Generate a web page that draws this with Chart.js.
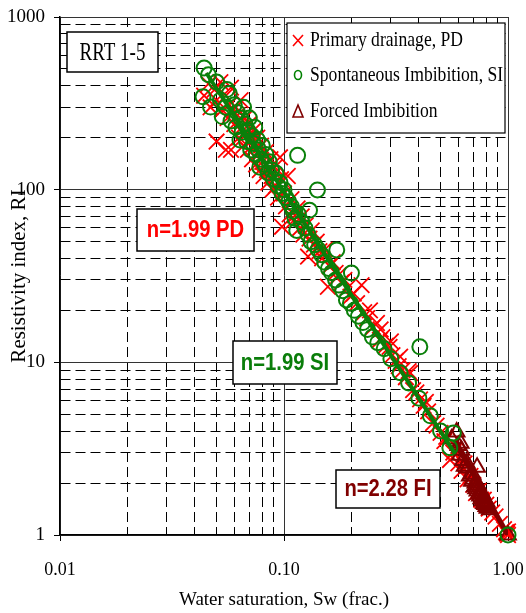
<!DOCTYPE html>
<html>
<head>
<meta charset="utf-8">
<script src="https://cdn.jsdelivr.net/npm/chart.js@4.4.1/dist/chart.umd.min.js"></script>
<style>
body{margin:0;background:#fff;}
#wrap{width:526px;height:613px;}
</style>
</head>
<body>
<div id="wrap"><canvas id="riChart" width="526" height="613"></canvas></div>
<script>
// grid / tick values
const xGrid = [0.01,0.02,0.03,0.04,0.05,0.06,0.07,0.08,0.09,0.1,0.2,0.3,0.4,0.5,0.6,0.7,0.8,0.9,1];
const yGrid = [1,2,3,4,5,6,7,8,9,10,20,30,40,50,60,70,80,90,100,200,300,400,500,600,700,800,900,1000];
const xMajor = [0.01,0.1,1];
const xMajorLabels = ["0.01","0.10","1.00"];
const yMajor = [1,10,100,1000];
const yMajorLabels = ["1","10","100","1000"];

// Primary drainage
const pdSw = [0.044,0.046,0.047,0.049,0.050,0.050,0.052,0.053,0.055,0.055,0.056,0.057,0.058,0.058,0.060,0.061,0.062,0.063,0.064,0.065,
  0.066,0.067,0.068,0.069,0.070,0.071,0.072,0.073,0.074,0.075,0.076,0.077,0.078,0.079,0.080,0.081,0.083,0.084,0.085,0.087,
  0.088,0.089,0.091,0.092,0.094,0.096,0.097,0.098,0.100,0.102,0.104,0.106,0.108,0.110,0.112,0.115,0.118,0.120,0.122,0.125,
  0.128,0.130,0.133,0.136,0.140,0.144,0.148,0.152,0.157,0.160,0.165,0.170,0.175,0.180,0.186,0.192,0.198,0.205,0.212,0.222,
  0.228,0.235,0.242,0.250,0.260,0.268,0.275,0.285,0.296,0.305,0.315,0.325,0.338,0.350,0.365,0.377,0.390,0.405,0.420,0.440,
  0.463,0.480,0.500,0.520,0.551,0.570,0.600,0.620,0.640,0.660,0.680,0.700,0.720,0.740,0.760,0.780,0.800,0.820,0.850,0.880,
  0.920,0.960,0.980,1.000,0.990,1.000,0.270,0.300,0.330,0.360,0.430,0.530,0.580];
const pdRI = [350,410,300,380,330,190,420,290,350,170,260,310,390,170,240,300,270,200,330,230,
  180,260,210,170,240,190,150,220,175,140,200,160,130,180,145,120,165,130,110,150,
  120,100,135,105,90,154,115,61,95,80,120,72,88,66,71,78,60,70,55,62,
  41,52,58,48,50,44,40,45,27.4,36,38,33,32,29,30,27,24,25,22,28,
  19.5,18,20,16,16.9,13.5,14,12.5,12.3,11,10.2,9.5,9,8.2,8.66,6.9,6.7,6.1,5.6,5.2,
  4.45,4.3,3.9,3.5,2.72,3.0,2.6,2.35,2.6,2.1,2.2,1.95,1.75,1.8,1.6,1.6,1.5,1.42,1.35,1.28,
  1.16,1.08,1.04,1.0,1.02,1.05,15.5,13.2,10.8,8.9,5.9,3.7,3.1];

// Spontaneous imbibition
const siSw = [0.044,0.046,0.0435,0.047,0.0556,0.053,0.0636,0.078,0.050,0.052,0.055,0.057,0.058,0.060,0.061,0.062,0.064,0.065,0.066,0.067,
  0.068,0.069,0.070,0.071,0.072,0.073,0.074,0.075,0.076,0.077,0.079,0.080,0.082,0.083,0.085,0.086,0.088,0.090,0.092,0.094,
  0.096,0.098,0.100,0.102,0.105,0.108,0.110,0.115,0.112,0.114,0.116,0.120,0.124,0.128,0.130,0.132,0.137,0.141,0.142,0.147,
  0.152,0.158,0.163,0.170,0.172,0.176,0.183,0.190,0.198,0.200,0.206,0.215,0.225,0.236,0.248,0.262,0.280,0.300,0.330,0.360,
  0.404,0.400,0.450,0.500,0.550,0.570,1.000];
const siRI = [506,463,345,301,380,265,194,135,420,330,300,360,250,310,230,280,260,215,300,240,
  190,220,260,170,205,185,230,160,195,170,150,180,140,160,125,145,130,115,125,105,
  110,95,100,90,85,80,75,158,68,58,72,65,60,55,76,50,48,99.6,45,42,
  38,35,33,30,44.8,28,26,23,22,32.9,20,18.5,17,15.5,14,13,12,10.5,8.7,7.6,
  12.3,6.2,4.9,4.0,3.2,3.9,1.0];

// Forced imbibition
const fiSw = [0.56,0.59,0.60,0.61,0.615,0.62,0.63,0.64,0.655,0.66,0.675,0.69,0.70,0.71,0.72,0.728,0.73,0.74,0.75,0.76,
  0.77,0.776,0.78,0.79,0.80,0.81,0.83,0.695,0.715,0.735,0.755,0.765,0.785,0.805,1.0];
const fiRI = [3.6,3.95,3.3,2.9,3.4,3.1,2.7,2.5,2.6,2.44,2.2,2.05,2.1,1.9,1.85,2.47,1.8,1.72,1.68,1.62,
  1.58,1.66,1.52,1.5,1.46,1.43,1.4,2.25,2.0,1.95,1.8,1.75,1.62,1.55,1.0];

// fitted lines (end points)
const pdFitSw = [0.045,1.0];
const pdFitRI = [474,1.0];
const siFitSw = [0.045,0.58];
const siFitRI = [474,2.96];
const fiFitSw = [0.58,1.0];
const fiFitRI = [3.46,1.0];

function pairs(xs, ys){
    return xs.map(function(x,i){ return {x:x, y:ys[i]}; });
}

function scaledText(ctx, text, x, y, font, color, sx){
    ctx.save();
    ctx.font = font;
    ctx.fillStyle = color;
    ctx.textBaseline = "middle";
    ctx.textAlign = "center";
    ctx.translate(x, y);
    ctx.scale(sx, 1);
    ctx.fillText(text, 0, 0);
    ctx.restore();
}

function textBox(ctx, l, t, r, b, text, font, color, sx){
    ctx.save();
    ctx.fillStyle = "#fff";
    ctx.fillRect(l, t, r-l, b-t);
    ctx.strokeStyle = "#000";
    ctx.lineWidth = 1.5;
    ctx.strokeRect(l, t, r-l, b-t);
    ctx.restore();
    scaledText(ctx, text, (l+r)/2, (t+b)/2 + 1, font, color, sx);
}

const boxesPlugin = {
    id: "boxes",
    beforeDraw(chart){
        const ctx = chart.ctx;
        ctx.save();
        ctx.fillStyle = "#fff";
        ctx.fillRect(0, 0, chart.width, chart.height);
        ctx.restore();
    },
    afterDraw(chart){
        const ctx = chart.ctx;

        textBox(ctx, 67, 32, 158, 72, "RRT 1-5", "25px 'Liberation Serif'", "#000", 0.76);
        textBox(ctx, 137, 209, 254, 251, "n=1.99 PD", "bold 23px 'Liberation Sans'", "#ff0000", 0.88);
        textBox(ctx, 233, 341, 337, 384, "n=1.99 SI", "bold 23px 'Liberation Sans'", "#0a7d0a", 0.88);
        textBox(ctx, 336, 470, 440, 508, "n=2.28 FI", "bold 23px 'Liberation Sans'", "#800000", 0.88);

        // legend
        ctx.save();
        ctx.fillStyle = "#fff";
        ctx.fillRect(287, 23, 218, 110);
        ctx.strokeStyle = "#000";
        ctx.lineWidth = 1.2;
        ctx.strokeRect(287, 23, 218, 110);

        ctx.lineWidth = 1.6;
        ctx.strokeStyle = "#ff0000";
        ctx.beginPath();
        ctx.moveTo(293, 35); ctx.lineTo(303, 46);
        ctx.moveTo(303, 35); ctx.lineTo(293, 46);
        ctx.stroke();

        ctx.strokeStyle = "#008000";
        ctx.beginPath();
        ctx.ellipse(298, 75, 3.5, 4.5, 0, 0, Math.PI*2);
        ctx.stroke();

        ctx.strokeStyle = "#800000";
        ctx.beginPath();
        ctx.moveTo(298, 105); ctx.lineTo(303, 117); ctx.lineTo(293, 117); ctx.closePath();
        ctx.stroke();
        ctx.restore();

        const rows = [["Primary drainage, PD", 40], ["Spontaneous Imbibition, SI", 75], ["Forced Imbibition", 111]];
        rows.forEach(function(r){
            ctx.save();
            ctx.font = "22px 'Liberation Serif'";
            ctx.fillStyle = "#000";
            ctx.textBaseline = "middle";
            ctx.textAlign = "left";
            ctx.translate(310, r[1]);
            ctx.scale(0.8, 1);
            ctx.fillText(r[0], 0, 0);
            ctx.restore();
        });
    }
};

function isMajor(list, v){
    return list.some(function(m){ return Math.abs(m - v) < m*1e-6; });
}

new Chart(document.getElementById("riChart"), {
    type: "scatter",
    data: {
        datasets: [
            {label:"SI fit", data: pairs(siFitSw, siFitRI), showLine:true, borderColor:"#0a800a", borderWidth:4, pointRadius:0, order:0},
            {label:"Spontaneous Imbibition, SI", data: pairs(siSw, siRI), pointStyle:"circle", pointRadius:7.5,
             borderColor:"#0a800a", backgroundColor:"transparent", borderWidth:2, order:1, clip:false},
            {label:"Forced Imbibition", data: pairs(fiSw, fiRI), pointStyle:"triangle", pointRadius:9,
             borderColor:"#800000", backgroundColor:"transparent", borderWidth:2, order:2, clip:false},
            {label:"FI fit", data: pairs(fiFitSw, fiFitRI), showLine:true, borderColor:"#800000", borderWidth:5, pointRadius:0, order:3},
            {label:"Primary drainage, PD", data: pairs(pdSw, pdRI), pointStyle:"crossRot", pointRadius:11,
             borderColor:"#ff0000", backgroundColor:"#ff0000", borderWidth:1.8, order:4, clip:false},
            {label:"PD fit", data: pairs(pdFitSw, pdFitRI), showLine:true, borderColor:"#ff0000", borderWidth:2, pointRadius:0, order:5}
        ]
    },
    options: {
        responsive: false,
        animation: false,
        layout: { padding: {top:17, right:18, left:0, bottom:0} },
        plugins: { legend:{display:false}, tooltip:{enabled:false} },
        scales: {
            x: {
                type: "logarithmic",
                min: 0.01, max: 1,
                afterBuildTicks: function(scale){ scale.ticks = xGrid.map(function(v){ return {value:v}; }); },
                afterFit: function(scale){ scale.height = 78; scale.paddingLeft = 0; scale.paddingRight = 0; },
                ticks: {
                    autoSkip:false, maxRotation:0, padding:18, color:"#000",
                    font:{family:"'Liberation Serif'", size:18},
                    callback: function(v){ const i = xMajor.findIndex(function(m){ return Math.abs(m-v) < m*1e-6; }); return i >= 0 ? xMajorLabels[i] : ""; }
                },
                grid: {
                    color: function(c){ return c.tick && isMajor(xMajor, c.tick.value) ? "#333" : "#000"; },
                    lineWidth: 1,
                    tickLength: 6,
                    tickColor: function(c){ return c.tick && isMajor(xMajor, c.tick.value) ? "#000" : "rgba(0,0,0,0)"; }
                },
                border: {
                    display:true, color:"#000", width:1.5,
                    dash: function(c){ return c.tick && !isMajor(xMajor, c.tick.value) ? [10,5] : []; }
                },
                title: {
                    display:true, text:"Water saturation, Sw (frac.)", color:"#000",
                    font:{family:"'Liberation Serif'", size:19}, padding:{top:0, bottom:2}
                }
            },
            y: {
                type: "logarithmic",
                min: 1, max: 1000,
                afterBuildTicks: function(scale){ scale.ticks = yGrid.map(function(v){ return {value:v}; }); },
                afterFit: function(scale){ scale.width = 60; scale.paddingTop = 0; scale.paddingBottom = 0; },
                ticks: {
                    autoSkip:false, padding:9, color:"#000",
                    font:{family:"'Liberation Serif'", size:19},
                    callback: function(v){ const i = yMajor.findIndex(function(m){ return Math.abs(m-v) < m*1e-6; }); return i >= 0 ? yMajorLabels[i] : ""; }
                },
                grid: {
                    color: function(c){ return c.tick && isMajor(yMajor, c.tick.value) ? "#333" : "#000"; },
                    lineWidth: 1,
                    tickLength: 6,
                    tickColor: function(c){ return c.tick && isMajor(yMajor, c.tick.value) ? "#000" : "rgba(0,0,0,0)"; }
                },
                border: {
                    display:true, color:"#000", width:1.5,
                    dash: function(c){ return c.tick && !isMajor(yMajor, c.tick.value) ? [10,5] : []; }
                },
                title: {
                    display:true, text:"Resistivity index, RI", color:"#000",
                    font:{family:"'Liberation Serif'", size:21}, padding:{top:7, bottom:0}
                }
            }
        }
    },
    plugins: [boxesPlugin]
});
</script>
</body>
</html>
